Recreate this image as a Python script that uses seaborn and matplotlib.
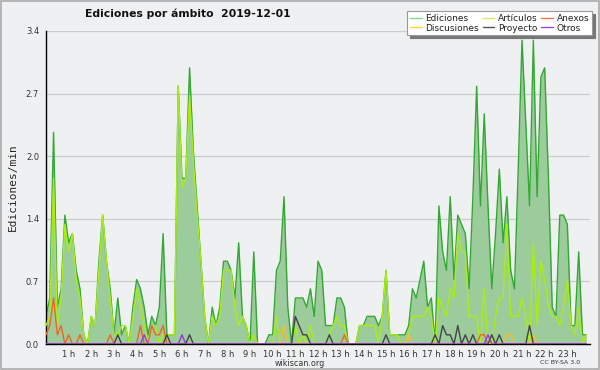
import numpy as np
import pandas as pd
import matplotlib
matplotlib.use("Agg")
import matplotlib.pyplot as plt
import seaborn as sns
from matplotlib.lines import Line2D
from matplotlib.ticker import MultipleLocator, FixedLocator

# edits per minute, one value every 10 minutes (144 slots)
ediciones = [
    0.3, 0.5, 2.3, 0.4, 0.6, 1.4, 1.1, 1.2, 0.8, 0.6, 0.1, 0.0,
    0.3, 0.2, 0.9, 1.4, 0.9, 0.6, 0.1, 0.5, 0.1, 0.2, 0.0, 0.4,
    0.7, 0.6, 0.4, 0.1, 0.3, 0.2, 0.4, 1.2, 0.1, 0.1, 0.1, 2.8,
    1.8, 1.8, 3.0, 2.1, 1.5, 0.9, 0.3, 0.0, 0.4, 0.2, 0.4, 0.9,
    0.9, 0.8, 0.5, 1.1, 0.3, 0.2, 0.0, 1.0, 0.0, 0.0, 0.0, 0.1,
    0.1, 0.8, 0.9, 1.6, 0.4, 0.0, 0.5, 0.5, 0.5, 0.4, 0.6, 0.3,
    0.9, 0.8, 0.2, 0.2, 0.2, 0.5, 0.5, 0.4, 0.0, 0.0, 0.0, 0.2,
    0.2, 0.3, 0.3, 0.3, 0.2, 0.3, 0.8, 0.1, 0.1, 0.1, 0.1, 0.1,
    0.2, 0.6, 0.5, 0.7, 0.9, 0.4, 0.5, 0.0, 1.5, 1.0, 0.8, 1.6,
    0.7, 1.4, 1.3, 1.2, 0.6, 1.6, 2.8, 1.5, 2.5, 1.5, 0.6, 1.2,
    1.9, 1.1, 1.6, 0.8, 0.6, 1.9, 3.3, 2.4, 1.5, 3.3, 1.6, 2.9,
    3.0, 1.8, 0.4, 0.3, 1.4, 1.4, 1.3, 0.2, 0.2, 1.0, 0.1, 0.1,
]
articulos = [
    0.2, 0.3, 1.8, 0.2, 0.5, 1.3, 1.0, 1.2, 0.7, 0.5, 0.1, 0.0,
    0.3, 0.2, 0.8, 1.4, 0.9, 0.5, 0.1, 0.1, 0.2, 0.2, 0.0, 0.3,
    0.6, 0.4, 0.2, 0.0, 0.2, 0.2, 0.0, 0.1, 0.1, 0.1, 0.1, 2.8,
    1.7, 1.8, 2.7, 2.0, 1.4, 0.9, 0.3, 0.0, 0.3, 0.2, 0.3, 0.8,
    0.8, 0.8, 0.4, 0.2, 0.3, 0.2, 0.0, 0.1, 0.0, 0.0, 0.0, 0.0,
    0.0, 0.3, 0.0, 0.0, 0.0, 0.0, 0.2, 0.0, 0.1, 0.0, 0.2, 0.0,
    0.0, 0.0, 0.0, 0.1, 0.2, 0.3, 0.2, 0.2, 0.0, 0.0, 0.0, 0.2,
    0.2, 0.2, 0.2, 0.2, 0.0, 0.3, 0.8, 0.1, 0.1, 0.1, 0.0, 0.0,
    0.1, 0.3, 0.3, 0.3, 0.3, 0.4, 0.3, 0.0, 0.5, 0.4, 0.3, 0.6,
    0.5, 1.2, 1.0, 1.0, 0.3, 0.3, 0.3, 0.0, 0.6, 0.0, 0.0, 0.3,
    0.5, 0.5, 1.3, 0.3, 0.3, 0.3, 0.5, 0.3, 0.0, 1.1, 0.2, 0.9,
    0.7, 0.4, 0.3, 0.3, 0.2, 0.4, 0.7, 0.2, 0.1, 0.4, 0.0, 0.1,
]
# sparse series: {slot: value}
anexos_pts = {0: 0.1, 1: 0.2, 2: 0.5, 3: 0.1, 4: 0.2, 6: 0.1, 9: 0.1, 17: 0.1,
              25: 0.2, 28: 0.2, 29: 0.1, 30: 0.1, 31: 0.2, 79: 0.1, 115: 0.1, 116: 0.1}
discusiones_pts = {63: 0.2, 96: 0.1, 122: 0.1, 123: 0.1, 129: 0.1}
proyecto_pts = {19: 0.1, 32: 0.1, 38: 0.1, 66: 0.3, 67: 0.2, 68: 0.1, 69: 0.1, 75: 0.1,
                90: 0.1, 103: 0.1, 105: 0.2, 106: 0.1, 107: 0.1, 109: 0.2, 111: 0.1,
                113: 0.1, 118: 0.1, 120: 0.1, 128: 0.2}
otros_pts = {26: 0.1, 36: 0.1, 117: 0.1}

hour_labels = [f"{h} h" for h in range(1, 24)]
y_ticks = [0, 0.68, 1.36, 2.04, 2.72, 3.4]
y_labels = ["0.0", "0.7", "1.4", "2.0", "2.7", "3.4"]

n = len(ediciones)
hours = np.arange(n) / 6.0


def dense(pts):
    v = np.zeros(n)
    for k, val in pts.items():
        v[k] = val
    return v


df = pd.DataFrame({
    "hora": hours,
    "Ediciones": ediciones,
    "Artículos": articulos,
    "Anexos": dense(anexos_pts),
    "Discusiones": dense(discusiones_pts),
    "Proyecto": dense(proyecto_pts),
    "Otros": dense(otros_pts),
})

bg = "#eff0f1"
sns.set_style("white")
plt.rcParams["font.family"] = ["DejaVu Sans"]

fig = plt.figure(figsize=(6, 3.7), dpi=100, facecolor=bg)
ax = fig.add_axes([46 / 600, 1 - 344 / 370, 544 / 600, 313 / 370])
ax.set_facecolor(bg)

# filled area under the total edits
ax.fill_between(df["hora"], df["Ediciones"], color="#9ccb9c", lw=0, zorder=1)
line_colors = {
    "Ediciones": "#33a833",
    "Artículos": "#aaee11",
    "Anexos": "#ee6622",
    "Discusiones": "#ffbb22",
    "Proyecto": "#444444",
    "Otros": "#9933ee",
}
for name, z in [("Ediciones", 2), ("Artículos", 3), ("Anexos", 4),
                ("Discusiones", 5), ("Proyecto", 6), ("Otros", 7)]:
    sns.lineplot(data=df, x="hora", y=name, ax=ax, color=line_colors[name],
                 lw=1.0, zorder=z, legend=False)

ax.set_xlim(0, 24)
ax.set_ylim(0, 3.4)
ax.set_xlabel("")
ax.set_ylabel("Ediciones/min", family="DejaVu Sans Mono", fontsize=8, labelpad=6)

ax.xaxis.set_major_locator(FixedLocator(list(range(1, 24))))
ax.set_xticklabels(hour_labels)
ax.xaxis.set_minor_locator(MultipleLocator(1 / 6))
ax.set_yticks(y_ticks)
ax.set_yticklabels(y_labels)
ax.yaxis.set_minor_locator(MultipleLocator(0.17))
ax.tick_params(axis="both", which="major", labelsize=6, length=4, width=0.8,
               colors="#000000", labelcolor="#333333", pad=1)
ax.tick_params(axis="x", which="major", pad=0)
ax.tick_params(axis="both", which="minor", length=2.5, width=0.8, colors="#000000")
ax.grid(axis="y", which="major", color="#cccccc", lw=0.9)
ax.set_axisbelow(True)
for s in ["top", "right"]:
    ax.spines[s].set_visible(False)
for s in ["left", "bottom"]:
    ax.spines[s].set_color("#000000")
    ax.spines[s].set_linewidth(1.0)

handles = [
    Line2D([], [], color="#88d888", lw=1),
    Line2D([], [], color="#ffd044", lw=1),
    Line2D([], [], color="#ccf055", lw=1),
    Line2D([], [], color="#555555", lw=1),
    Line2D([], [], color="#ee7744", lw=1),
    Line2D([], [], color="#9944ee", lw=1),
]
labels = ["Ediciones", "Discusiones", "Artículos", "Proyecto", "Anexos", "Otros"]
leg = fig.legend(handles, labels, ncol=3, loc="upper right",
                 bbox_to_anchor=(592 / 600, 1 - 11 / 370), fontsize=6.5,
                 frameon=True, fancybox=False, shadow={"color": "#777777", "alpha": 1},
                 edgecolor="#999999", handlelength=1.3, handletextpad=0.4,
                 columnspacing=0.4, labelspacing=0.1, borderpad=0.3,
                 borderaxespad=0)
leg.get_frame().set_linewidth(0.8)
for t in leg.get_texts():
    t.set_color("#222222")

fig.text(188 / 600, 1 - 14 / 370, "Ediciones por ámbito  2019-12-01",
         ha="center", va="center", fontsize=7.8, fontweight="bold", color="#111111")
fig.text(300 / 600, 1 - 363 / 370, "wikiscan.org", ha="center", va="center",
         fontsize=5.8, color="#333333")
fig.text(560 / 600, 1 - 363 / 370, "CC BY-SA 3.0", ha="center", va="center",
         fontsize=4.5, color="#333333")

fig.patches.append(plt.Rectangle((0.002, 0.004), 0.996, 0.992, transform=fig.transFigure,
                                 fill=False, edgecolor="#aaaaaa", lw=1.2))

fig.savefig("out.png", dpi=100, facecolor=bg)
